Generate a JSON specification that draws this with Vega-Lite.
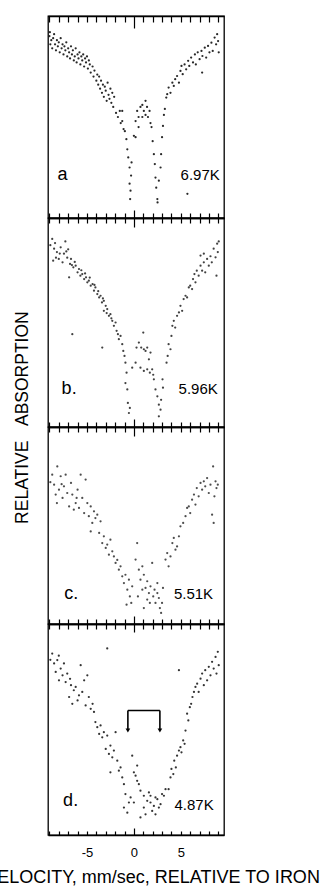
{
"$schema": "https://vega.github.io/schema/vega-lite/v6.json",
"autosize": {"type": "pad"},
"padding": {"left": -17, "top": 14, "right": 0, "bottom": 0},
"background": "white",
"spacing": 0,
"bounds": "flush",
"config": {
  "view": {"stroke": "black", "strokeWidth": 1.3},
  "axis": {"grid": false, "domainColor": "black", "domainWidth": 1.5, "tickColor": "black", "tickWidth": 1.2, "labelFont": "Liberation Sans", "labelColor": "black", "titleFont": "Liberation Sans", "titleFontWeight": "normal", "titleColor": "black"},
  "text": {"font": "Liberation Sans", "color": "black"}
},
"datasets": {
"a": [
{"v":-9.0,"t":90},{"v":-8.9,"t":86},{"v":-8.95,"t":92},{"v":-8.8,"t":88},{"v":-8.7,"t":84},{"v":-8.6,"t":89},{"v":-8.5,"t":91},{"v":-8.4,"t":86},{"v":-8.3,"t":83},{"v":-8.2,"t":88},{"v":-8.1,"t":85},{"v":-8.0,"t":87},{"v":-7.9,"t":82},{"v":-7.8,"t":89},{"v":-7.7,"t":84},{"v":-7.6,"t":86},{"v":-7.5,"t":81},{"v":-7.4,"t":85},{"v":-7.3,"t":83},{"v":-7.2,"t":87},{"v":-7.1,"t":80},{"v":-7.0,"t":84},{"v":-6.9,"t":82},{"v":-6.8,"t":79},{"v":-6.7,"t":85},{"v":-6.6,"t":81},{"v":-6.5,"t":83},{"v":-6.4,"t":78},{"v":-6.3,"t":80},{"v":-6.2,"t":84},{"v":-6.1,"t":77},{"v":-6.0,"t":81},{"v":-5.9,"t":79},{"v":-5.8,"t":82},{"v":-5.7,"t":76},{"v":-5.6,"t":80},{"v":-5.5,"t":78},{"v":-5.4,"t":81},{"v":-5.3,"t":75},{"v":-5.2,"t":79},{"v":-5.1,"t":77},{"v":-5.0,"t":80},{"v":-4.9,"t":74},{"v":-4.8,"t":78},{"v":-4.7,"t":76},{"v":-4.6,"t":72},{"v":-4.4,"t":75},{"v":-4.3,"t":70},{"v":-4.2,"t":73},{"v":-4.0,"t":68},{"v":-3.9,"t":71},{"v":-3.8,"t":66},{"v":-3.7,"t":70},{"v":-3.6,"t":64},{"v":-3.5,"t":68},{"v":-3.4,"t":62},{"v":-3.3,"t":66},{"v":-3.2,"t":60},{"v":-3.1,"t":65},{"v":-3.0,"t":63},{"v":-2.9,"t":58},{"v":-2.8,"t":67},{"v":-2.7,"t":61},{"v":-2.6,"t":59},{"v":-2.5,"t":64},{"v":-2.4,"t":57},{"v":-2.3,"t":62},{"v":-2.2,"t":55},{"v":-2.1,"t":60},{"v":-1.9,"t":52},{"v":-1.7,"t":50},{"v":-1.5,"t":53},{"v":-1.4,"t":47},{"v":-1.24,"t":53},{"v":-1.24,"t":48},{"v":-1.1,"t":44},{"v":-0.96,"t":43},{"v":-0.8,"t":39},{"v":-0.7,"t":34},{"v":-0.6,"t":30},{"v":-0.46,"t":25},{"v":-0.25,"t":27.5},{"v":-0.46,"t":17},{"v":-0.36,"t":13.5},{"v":-0.4,"t":9.4},{"v":-0.3,"t":21},{"v":0,"t":40.7},
{"v":0.18,"t":48},{"v":0.35,"t":53},{"v":0.5,"t":50},{"v":0.7,"t":55},{"v":0.9,"t":56},{"v":1.06,"t":53},{"v":1.24,"t":58},{"v":1.4,"t":55},{"v":1.5,"t":50},{"v":1.67,"t":53},{"v":1.77,"t":47},{"v":1.88,"t":45},{"v":0.9,"t":50},{"v":0.5,"t":45},{"v":0.18,"t":40},{"v":1.24,"t":51},
{"v":2.0,"t":38},{"v":2.13,"t":31.6},{"v":2.23,"t":26.7},{"v":2.3,"t":20},{"v":2.38,"t":15},{"v":2.5,"t":9.4},{"v":2.52,"t":7.7},{"v":2.66,"t":18.5},{"v":2.84,"t":25},{"v":2.9,"t":31.6},{"v":3.0,"t":40},{"v":3.1,"t":45.6},{"v":3.2,"t":51},{"v":3.3,"t":54},{"v":3.45,"t":59.6},{"v":3.55,"t":61.3},
{"v":3.7,"t":64.6},{"v":3.9,"t":62},{"v":4.1,"t":67},{"v":4.25,"t":65.4},{"v":4.4,"t":68.7},{"v":4.6,"t":70.3},{"v":4.8,"t":67},{"v":4.96,"t":72.8},{"v":5.07,"t":75.3},{"v":5.2,"t":71.2},{"v":5.4,"t":76},{"v":5.57,"t":73.6},{"v":5.78,"t":77.8},{"v":5.9,"t":75.3},{"v":6.1,"t":79.4},{"v":6.3,"t":77},{"v":6.5,"t":81},{"v":6.6,"t":76},{"v":6.8,"t":82},{"v":7.0,"t":78.6},{"v":7.2,"t":82.7},{"v":7.3,"t":80.2},{"v":7.55,"t":84.3},{"v":7.7,"t":79.4},{"v":7.9,"t":85.2},{"v":8.05,"t":82},{"v":8.26,"t":86.8},{"v":8.4,"t":82.7},{"v":8.6,"t":89.3},{"v":8.76,"t":86},{"v":8.87,"t":91},{"v":8.97,"t":87.6},{"v":9.04,"t":82},{"v":7.27,"t":72},{"v":5.7,"t":12}
],
"b": [
{"v":-8.7,"t":90},{"v":-8.5,"t":85.3},{"v":-8.3,"t":81},{"v":-8.6,"t":79.6},{"v":-8.2,"t":83.7},{"v":-8.0,"t":80.4},{"v":-7.8,"t":86},{"v":-7.6,"t":78.8},{"v":-7.45,"t":82.9},{"v":-7.3,"t":88.8},{"v":-7.1,"t":81},{"v":-7.0,"t":85},{"v":-6.8,"t":78},{"v":-6.7,"t":80.4},{"v":-6.45,"t":76.4},{"v":-6.9,"t":71.6},{"v":-6.2,"t":77.2},{"v":-6.0,"t":74},{"v":-5.85,"t":75.6},{"v":-5.7,"t":72.4},{"v":-5.5,"t":73.2},{"v":-5.3,"t":70.8},{"v":-5.1,"t":71.6},{"v":-4.96,"t":69.2},{"v":-4.8,"t":70},{"v":-4.6,"t":67.6},{"v":-4.4,"t":68.4},{"v":-4.25,"t":65.2},{"v":-4.1,"t":66.8},{"v":-3.9,"t":63.6},{"v":-3.7,"t":62},{"v":-3.55,"t":62.8},{"v":-3.4,"t":59.6},{"v":-3.2,"t":60.4},{"v":-3.0,"t":58},{"v":-3.2,"t":55.6},{"v":-2.84,"t":56.4},{"v":-2.66,"t":53.2},{"v":-2.5,"t":54},{"v":-2.3,"t":50.8},{"v":-2.13,"t":48.4},{"v":-1.95,"t":50},{"v":-1.84,"t":46},{"v":-1.7,"t":44.4},{"v":-1.6,"t":42},{"v":-1.42,"t":43.6},{"v":-1.24,"t":39.6},{"v":-1.13,"t":36.4},{"v":-1.0,"t":34},{"v":-0.9,"t":30.8},{"v":-0.78,"t":26},{"v":-0.7,"t":18},{"v":-0.64,"t":11.5},{"v":-0.53,"t":6.7},{"v":-0.43,"t":9.1},{"v":-0.9,"t":21},{"v":-6.56,"t":44.4},{"v":-3.37,"t":38},
{"v":-8.9,"t":87},{"v":-8.4,"t":88},{"v":-7.9,"t":83},{"v":-7.2,"t":84},{"v":-6.6,"t":77.5},{"v":-6.3,"t":79},{"v":-5.6,"t":75},{"v":-5.2,"t":73.5},{"v":-4.7,"t":71.5},{"v":-4.2,"t":68},{"v":-3.8,"t":65},{"v":-3.3,"t":61.5},{"v":-2.9,"t":54.5},{"v":-2.4,"t":52},
{"v":0.28,"t":38},{"v":0.53,"t":40.4},{"v":0.78,"t":38},{"v":1.0,"t":45.2},{"v":1.06,"t":37.2},{"v":1.24,"t":36.4},{"v":1.42,"t":38},{"v":1.6,"t":32.4},{"v":1.77,"t":35.6},{"v":0.18,"t":30.8},{"v":0.7,"t":28.4},{"v":1.06,"t":26.8},{"v":1.42,"t":27.6},{"v":1.7,"t":26},{"v":1.95,"t":27.6},{"v":2.13,"t":22.8},{"v":2.06,"t":25},{"v":-0.18,"t":28.4},
{"v":2.3,"t":18},{"v":2.5,"t":14.7},{"v":2.66,"t":10.7},{"v":2.84,"t":8.3},{"v":2.66,"t":5.1},{"v":2.9,"t":13},{"v":3.05,"t":22.8},{"v":3.1,"t":18.8},
{"v":3.48,"t":30.8},{"v":3.6,"t":34},{"v":3.7,"t":39.6},{"v":3.9,"t":37.2},{"v":4.0,"t":43.6},{"v":4.1,"t":48.4},{"v":4.25,"t":50.8},{"v":4.4,"t":47.6},{"v":4.6,"t":53.2},{"v":4.8,"t":54.8},{"v":4.96,"t":58},{"v":5.14,"t":55.6},{"v":5.3,"t":61.2},{"v":5.5,"t":62.8},{"v":5.67,"t":62},{"v":5.85,"t":66.8},{"v":6.0,"t":67.6},{"v":6.2,"t":66},{"v":6.3,"t":70.8},{"v":6.45,"t":73.2},{"v":6.56,"t":69.2},{"v":6.7,"t":74.8},{"v":6.9,"t":72.4},{"v":7.1,"t":77.2},{"v":7.27,"t":74.8},{"v":7.45,"t":78.8},{"v":7.6,"t":74},{"v":7.8,"t":80.4},{"v":7.98,"t":77.2},{"v":8.16,"t":81.7},{"v":8.3,"t":78.8},{"v":8.5,"t":85.3},{"v":8.7,"t":81.2},{"v":8.8,"t":72.4},{"v":8.87,"t":87.7},{"v":8.94,"t":83.7},{"v":9.04,"t":88.8},{"v":7.1,"t":82},{"v":7.45,"t":82.9}
],
"c": [
{"v":-8.7,"t":75.8},{"v":-8.5,"t":70.7},{"v":-8.33,"t":65.7},{"v":-8.16,"t":80},{"v":-8.2,"t":61.4},{"v":-7.98,"t":68.2},{"v":-7.8,"t":75},{"v":-7.6,"t":64},{"v":-7.45,"t":69.9},{"v":-7.27,"t":75.8},{"v":-7.1,"t":66.5},{"v":-6.9,"t":59.7},{"v":-6.7,"t":71.6},{"v":-6.56,"t":65.7},{"v":-6.4,"t":58},{"v":-6.2,"t":61.4},{"v":-6.0,"t":68.2},{"v":-5.85,"t":58.9},{"v":-5.67,"t":75.8},{"v":-5.5,"t":64},{"v":-5.3,"t":56.3},{"v":-5.14,"t":73.3},{"v":-4.96,"t":61.4},{"v":-4.8,"t":54.7},{"v":-4.6,"t":59.7},{"v":-4.43,"t":51.3},{"v":-4.25,"t":57.2},{"v":-4.1,"t":53.8},{"v":-3.9,"t":55.5},{"v":-3.7,"t":46.2},{"v":-3.55,"t":52.1},{"v":-3.37,"t":41.1},{"v":-3.2,"t":44.5},{"v":-3.0,"t":38.6},{"v":-2.84,"t":40.3},{"v":-2.66,"t":35.2},{"v":-2.5,"t":42.8},{"v":-2.3,"t":36.9},{"v":-2.13,"t":34.3},{"v":-1.95,"t":31},{"v":-1.77,"t":32.5},{"v":-1.6,"t":27.6},{"v":-1.42,"t":29.3},{"v":-1.24,"t":24.2},{"v":-1.06,"t":20.8},{"v":-0.9,"t":25},{"v":-0.7,"t":17.4},{"v":-0.53,"t":22.5},{"v":-0.43,"t":14},{"v":-0.78,"t":9.8},{"v":-0.18,"t":19.1},{"v":-0.28,"t":10.7},{"v":-4.6,"t":47},{"v":-8.9,"t":72},{"v":-7.7,"t":71},{"v":-6.1,"t":64},
{"v":0.35,"t":41.1},{"v":0.18,"t":32.7},{"v":0.53,"t":27.6},{"v":0.9,"t":29.3},{"v":0.7,"t":22.5},{"v":1.06,"t":25},{"v":1.24,"t":18.3},{"v":1.42,"t":21.7},{"v":1.6,"t":15.7},{"v":1.77,"t":19.1},{"v":1.95,"t":31},{"v":2.06,"t":14},{"v":2.2,"t":17.4},{"v":2.3,"t":10.7},{"v":2.5,"t":15.7},{"v":2.66,"t":13.2},{"v":2.77,"t":8.1},{"v":2.9,"t":5.6},{"v":3.0,"t":10.7},{"v":3.1,"t":18.3},{"v":1.06,"t":8.1},{"v":1.7,"t":10.7},{"v":0.43,"t":14},{"v":0.9,"t":17.4},{"v":1.42,"t":12.4},{"v":2.5,"t":20.8},
{"v":3.37,"t":32.7},{"v":3.55,"t":36},{"v":3.7,"t":29.3},{"v":3.9,"t":34.3},{"v":4.1,"t":41.1},{"v":4.25,"t":43.7},{"v":4.43,"t":37.7},{"v":4.6,"t":39.4},{"v":4.8,"t":44.5},{"v":4.96,"t":49.6},{"v":5.25,"t":51.3},{"v":5.5,"t":54.7},{"v":5.67,"t":58.9},{"v":5.85,"t":59.7},{"v":6.0,"t":56.3},{"v":6.2,"t":63.1},{"v":6.4,"t":65.7},{"v":6.56,"t":60.6},{"v":6.7,"t":69},{"v":6.9,"t":64.8},{"v":7.1,"t":71.6},{"v":7.27,"t":68.2},{"v":7.45,"t":72.4},{"v":7.6,"t":69.9},{"v":7.8,"t":74.1},{"v":7.98,"t":66.5},{"v":8.16,"t":70.7},{"v":8.33,"t":55.5},{"v":8.44,"t":80},{"v":8.5,"t":51.3},{"v":8.58,"t":64.8},{"v":8.7,"t":72.4},{"v":8.8,"t":69},{"v":8.94,"t":70.7}
],
"d": [
{"v":-8.7,"t":86},{"v":-8.5,"t":81.3},{"v":-8.33,"t":77.3},{"v":-8.16,"t":82.9},{"v":-7.98,"t":73.3},{"v":-7.8,"t":78.9},{"v":-7.6,"t":75.7},{"v":-7.45,"t":81.3},{"v":-7.27,"t":72.5},{"v":-7.1,"t":76.5},{"v":-6.9,"t":65.4},{"v":-6.7,"t":71},{"v":-6.56,"t":62.2},{"v":-6.4,"t":68.6},{"v":-6.2,"t":70.2},{"v":-6.0,"t":63.8},{"v":-5.85,"t":66.2},{"v":-5.67,"t":80.5},{"v":-5.5,"t":67.8},{"v":-5.3,"t":73.3},{"v":-5.14,"t":61.4},{"v":-4.96,"t":75.7},{"v":-4.8,"t":65.4},{"v":-4.6,"t":59.8},{"v":-4.4,"t":62.2},{"v":-4.25,"t":58.3},{"v":-4.1,"t":53.5},{"v":-3.9,"t":51.1},{"v":-3.7,"t":47.9},{"v":-3.55,"t":51.9},{"v":-3.37,"t":46.3},{"v":-3.2,"t":48.7},{"v":-3.0,"t":40.8},{"v":-2.84,"t":47.1},{"v":-2.66,"t":38.4},{"v":-2.5,"t":42.4},{"v":-2.3,"t":36.8},{"v":-2.13,"t":40},{"v":-1.95,"t":48.7},{"v":-1.77,"t":35.2},{"v":-1.6,"t":30.5},{"v":-1.42,"t":32},{"v":-1.24,"t":27.3},{"v":-1.06,"t":24.1},{"v":-0.9,"t":19.4},{"v":-1.06,"t":13},{"v":-0.7,"t":10.6},{"v":-0.53,"t":15.4},{"v":-2.84,"t":88.4},{"v":-2.5,"t":29.7},{"v":-8.9,"t":83},{"v":-8.0,"t":85},{"v":-6.8,"t":74},
{"v":-0.18,"t":37.6},{"v":0,"t":29.7},{"v":0.18,"t":28.1},{"v":0.35,"t":32.9},{"v":0.53,"t":24.1},{"v":0.35,"t":25.7},{"v":0.7,"t":21},{"v":1.06,"t":18.6},{"v":1.24,"t":9.8},{"v":1.42,"t":16.2},{"v":0.7,"t":8.3},{"v":1.6,"t":20.2},{"v":1.77,"t":15.4},{"v":1.95,"t":11.4},{"v":2.13,"t":13.8},{"v":2.3,"t":17.8},{"v":2.5,"t":17},{"v":2.66,"t":13},{"v":2.84,"t":14.6},{"v":3.0,"t":19.4},{"v":3.2,"t":18.6},{"v":3.37,"t":21.7},{"v":1.06,"t":13},{"v":1.77,"t":18.6},{"v":-0.35,"t":17.8},{"v":0,"t":15.4},{"v":2.3,"t":9.8},
{"v":3.7,"t":21.7},{"v":3.9,"t":27.3},{"v":4.0,"t":31.3},{"v":4.2,"t":28.9},{"v":4.3,"t":35.2},{"v":4.47,"t":32},{"v":4.6,"t":37.6},{"v":4.8,"t":40},{"v":4.96,"t":41.6},{"v":5.07,"t":39.2},{"v":5.25,"t":44.8},{"v":5.4,"t":43.2},{"v":5.5,"t":49.5},{"v":5.67,"t":57.5},{"v":5.8,"t":54.3},{"v":5.96,"t":60.6},{"v":6.1,"t":62.2},{"v":6.24,"t":65.4},{"v":6.4,"t":67.8},{"v":6.56,"t":70.2},{"v":6.74,"t":71.7},{"v":6.9,"t":67.8},{"v":7.1,"t":74.1},{"v":7.27,"t":76.5},{"v":7.45,"t":71},{"v":7.6,"t":78.1},{"v":7.8,"t":73.3},{"v":7.98,"t":79.7},{"v":8.16,"t":75.7},{"v":8.33,"t":82.1},{"v":8.5,"t":78.9},{"v":8.7,"t":84.4},{"v":8.8,"t":76.5},{"v":8.94,"t":86.8},{"v":9.04,"t":80.5},{"v":4.8,"t":78.1}
]
},
"vconcat": [
{
 "width": 176, "height": 202,
 "resolve": {"axis": {"x": "independent"}},
 "layer": [
  {"data": {"name": "a"}, "mark": {"type": "circle", "size": 5, "color": "#111", "opacity": 0.9},
   "encoding": {
    "x": {"field": "v", "type": "quantitative", "scale": {"domain": [-9.15, 9.6], "nice": false, "zero": false},
          "axis": {"orient": "bottom", "values": [-9,-8,-7,-6,-5,-4,-3,-2,-1,0,1,2,3,4,5,6,7,8,9], "labels": false, "title": null, "tickSize": {"condition": {"test": "datum.value == 0", "value": -8}, "value": -5}}},
    "y": {"field": "t", "type": "quantitative", "scale": {"domain": [0, 100], "nice": false, "zero": false}, "axis": null}}},
  {"data": {"values": [{}]}, "mark": {"type": "text", "fontSize": 18, "align": "center", "baseline": "middle"},
   "encoding": {
    "x": {"datum": -7.6, "type": "quantitative", "scale": {"domain": [-9.15, 9.6], "nice": false, "zero": false},
          "axis": {"orient": "top", "values": [-9,-8,-7,-6,-5,-4,-3,-2,-1,0,1,2,3,4,5,6,7,8,9], "labels": false, "title": null, "tickSize": {"condition": {"test": "datum.value == 0", "value": -12}, "value": -6}}},
    "y": {"datum": 21.4, "type": "quantitative", "scale": {"domain": [0, 100], "nice": false, "zero": false}, "axis": null},
    "text": {"value": "a"}}},
  {"data": {"values": [{}]}, "mark": {"type": "text", "fontSize": 15, "align": "right", "baseline": "middle"},
   "encoding": {
    "x": {"datum": 9.15, "type": "quantitative", "axis": null},
    "y": {"datum": 21.2, "type": "quantitative", "axis": null},
    "text": {"value": "6.97K"}}}
 ]
},
{
 "width": 176, "height": 209,
 "resolve": {"axis": {"x": "independent"}},
 "layer": [
  {"data": {"name": "b"}, "mark": {"type": "circle", "size": 5, "color": "#111", "opacity": 0.8},
   "encoding": {
    "x": {"field": "v", "type": "quantitative", "scale": {"domain": [-9.15, 9.6], "nice": false, "zero": false},
          "axis": {"orient": "bottom", "values": [-9,-8,-7,-6,-5,-4,-3,-2,-1,0,1,2,3,4,5,6,7,8,9], "labels": false, "title": null, "tickSize": {"condition": {"test": "datum.value == 0", "value": -8}, "value": -5}}},
    "y": {"field": "t", "type": "quantitative", "scale": {"domain": [0, 100], "nice": false, "zero": false}, "axis": null}}},
  {"data": {"values": [{}]}, "mark": {"type": "text", "fontSize": 18, "align": "center", "baseline": "middle"},
   "encoding": {
    "x": {"datum": -6.9, "type": "quantitative", "scale": {"domain": [-9.15, 9.6], "nice": false, "zero": false},
          "axis": {"orient": "top", "values": [-9,-8,-7,-6,-5,-4,-3,-2,-1,0,1,2,3,4,5,6,7,8,9], "labels": false, "title": null, "tickSize": {"condition": {"test": "datum.value == 0", "value": -9}, "value": -5}}},
    "y": {"datum": 18, "type": "quantitative", "axis": null},
    "text": {"value": "b."}}},
  {"data": {"values": [{}]}, "mark": {"type": "text", "fontSize": 15, "align": "right", "baseline": "middle"},
   "encoding": {
    "x": {"datum": 8.94, "type": "quantitative", "axis": null},
    "y": {"datum": 18, "type": "quantitative", "axis": null},
    "text": {"value": "5.96K"}}},
  {"data": {"values": [{}]}, "mark": {"type": "text", "fontSize": 17.5, "angle": 270, "align": "center", "baseline": "middle"},
   "encoding": {
    "x": {"datum": -11.78, "type": "quantitative", "axis": null},
    "y": {"datum": 4.5, "type": "quantitative", "axis": null},
    "text": {"value": "RELATIVE\u00a0\u00a0\u00a0ABSORPTION"}}}
 ]
},
{
 "width": 176, "height": 197,
 "resolve": {"axis": {"x": "independent"}},
 "layer": [
  {"data": {"name": "c"}, "mark": {"type": "circle", "size": 5, "color": "#111", "opacity": 0.75},
   "encoding": {
    "x": {"field": "v", "type": "quantitative", "scale": {"domain": [-9.15, 9.6], "nice": false, "zero": false},
          "axis": {"orient": "bottom", "values": [-9,-8,-7,-6,-5,-4,-3,-2,-1,0,1,2,3,4,5,6,7,8,9], "labels": false, "title": null, "tickSize": {"condition": {"test": "datum.value == 0", "value": -8}, "value": -5}}},
    "y": {"field": "t", "type": "quantitative", "scale": {"domain": [0, 100], "nice": false, "zero": false}, "axis": null}}},
  {"data": {"values": [{}]}, "mark": {"type": "text", "fontSize": 18, "align": "center", "baseline": "middle"},
   "encoding": {
    "x": {"datum": -6.67, "type": "quantitative", "scale": {"domain": [-9.15, 9.6], "nice": false, "zero": false},
          "axis": {"orient": "top", "values": [-9,-8,-7,-6,-5,-4,-3,-2,-1,0,1,2,3,4,5,6,7,8,9], "labels": false, "title": null, "tickSize": {"condition": {"test": "datum.value == 0", "value": -9}, "value": -5}}},
    "y": {"datum": 15.4, "type": "quantitative", "axis": null},
    "text": {"value": "c."}}},
  {"data": {"values": [{}]}, "mark": {"type": "text", "fontSize": 15, "align": "right", "baseline": "middle"},
   "encoding": {
    "x": {"datum": 8.44, "type": "quantitative", "axis": null},
    "y": {"datum": 15.4, "type": "quantitative", "axis": null},
    "text": {"value": "5.51K"}}}
 ]
},
{
 "width": 176, "height": 211,
 "resolve": {"axis": {"x": "independent"}},
 "layer": [
  {"data": {"name": "d"}, "mark": {"type": "circle", "size": 5, "color": "#111", "opacity": 0.85},
   "encoding": {
    "x": {"field": "v", "type": "quantitative", "scale": {"domain": [-9.15, 9.6], "nice": false, "zero": false},
          "axis": {"orient": "bottom", "values": [-9,-8,-7,-6,-5,-4,-3,-2,-1,0,1,2,3,4,5,6,7,8,9],
                   "labelExpr": "datum.value == -5 ? '-5' : datum.value == 0 ? '0' : datum.value == 5 ? '5' : ''",
                   "labelFontSize": 13, "labelBaseline": "top", "labelOverlap": false, "labelFlush": false,
                   "labelPadding": {"condition": {"test": "datum.value == 0", "value": 18}, "value": 15},
                   "tickSize": {"condition": {"test": "datum.value == 0", "value": -7}, "value": -4},
                   "title": "VELOCITY, mm/sec, RELATIVE TO IRON", "titleX": 104, "titleY": 47, "titleAlign": "center", "titleBaseline": "alphabetic", "titleFontSize": 18}},
    "y": {"field": "t", "type": "quantitative", "scale": {"domain": [0, 100], "nice": false, "zero": false}, "axis": null}}},
  {"data": {"values": [{}]}, "mark": {"type": "text", "fontSize": 18, "align": "center", "baseline": "middle"},
   "encoding": {
    "x": {"datum": -6.74, "type": "quantitative", "scale": {"domain": [-9.15, 9.6], "nice": false, "zero": false},
          "axis": {"orient": "top", "values": [-9,-8,-7,-6,-5,-4,-3,-2,-1,0,1,2,3,4,5,6,7,8,9], "labels": false, "title": null, "tickSize": {"condition": {"test": "datum.value == 0", "value": -8}, "value": -5}}},
    "y": {"datum": 16.2, "type": "quantitative", "axis": null},
    "text": {"value": "d."}}},
  {"data": {"values": [{}]}, "mark": {"type": "text", "fontSize": 15, "align": "right", "baseline": "middle"},
   "encoding": {
    "x": {"datum": 8.5, "type": "quantitative", "axis": null},
    "y": {"datum": 14.1, "type": "quantitative", "axis": null},
    "text": {"value": "4.87K"}}},
  {"data": {"values": [{}]}, "mark": {"type": "rule", "strokeWidth": 1.6, "color": "black"},
   "encoding": {
    "x": {"datum": -0.64, "type": "quantitative", "axis": null},
    "x2": {"datum": 2.77},
    "y": {"datum": 59, "type": "quantitative", "axis": null}}},
  {"data": {"values": [{}]}, "mark": {"type": "rule", "strokeWidth": 1.6, "color": "black"},
   "encoding": {
    "x": {"datum": -0.64, "type": "quantitative", "axis": null},
    "y": {"datum": 59, "type": "quantitative", "axis": null},
    "y2": {"datum": 50}}},
  {"data": {"values": [{}]}, "mark": {"type": "rule", "strokeWidth": 1.6, "color": "black"},
   "encoding": {
    "x": {"datum": 2.77, "type": "quantitative", "axis": null},
    "y": {"datum": 59, "type": "quantitative", "axis": null},
    "y2": {"datum": 50}}},
  {"data": {"values": [{}]}, "mark": {"type": "point", "shape": "triangle-down", "filled": true, "size": 22, "color": "black", "opacity": 1},
   "encoding": {
    "x": {"datum": -0.64, "type": "quantitative", "axis": null},
    "y": {"datum": 49.5, "type": "quantitative", "axis": null}}},
  {"data": {"values": [{}]}, "mark": {"type": "point", "shape": "triangle-down", "filled": true, "size": 22, "color": "black", "opacity": 1},
   "encoding": {
    "x": {"datum": 2.77, "type": "quantitative", "axis": null},
    "y": {"datum": 49.5, "type": "quantitative", "axis": null}}}
 ]
}
]
}
